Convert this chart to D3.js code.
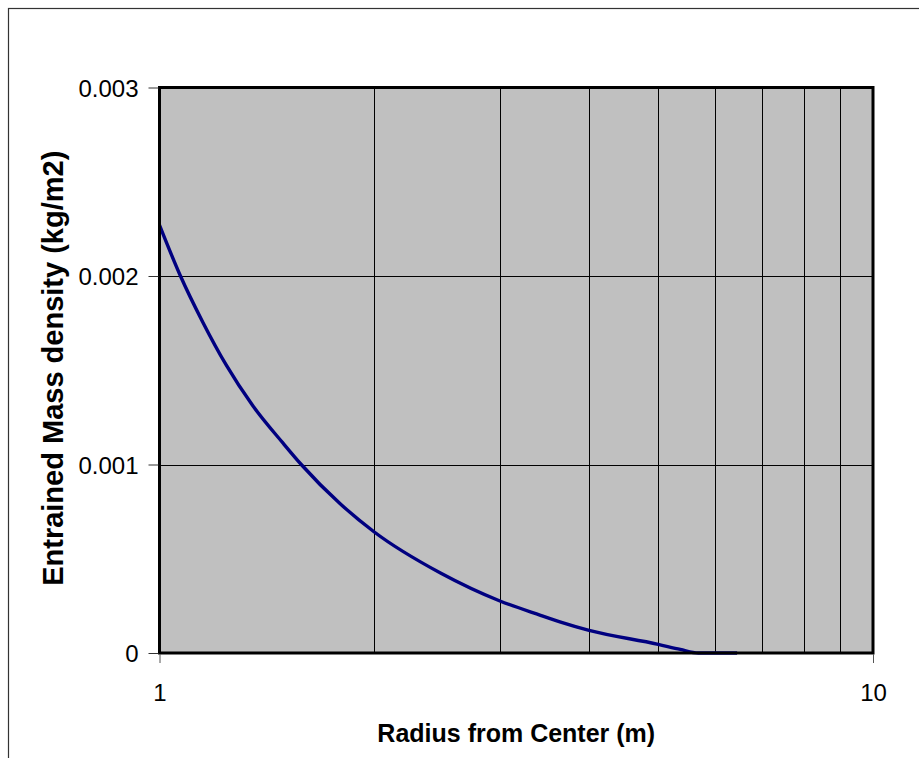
<!DOCTYPE html>
<html>
<head>
<meta charset="utf-8">
<script src="https://cdn.jsdelivr.net/npm/d3@7"></script>
<style>
  body { margin: 0; background: #fff; }
  svg { display: block; font-family: "Liberation Sans", Arial, sans-serif; }
</style>
</head>
<body>
<div id="chart"></div>
<script>
// data
var radius  = [1.00, 1.07, 1.15, 1.24, 1.35, 1.49, 1.58, 1.79, 2.00, 2.48, 3.00, 3.42, 3.65, 4.00, 5.00, 5.37, 5.69, 6.45];
var density = [0.00227, 0.00200, 0.001755, 0.001528, 0.001314, 0.001113, 0.00100, 0.000793, 0.000642, 0.000423, 0.000276, 0.000200, 0.000164, 0.000120, 0.000046, 0.000019, 0, 0];
var yTicks = [0, 0.001, 0.002, 0.003];
var yTickLabels = ["0", "0.001", "0.002", "0.003"];
var xTicks = [1, 10];
var xGrid = [2, 3, 4, 5, 6, 7, 8, 9];

var W = 919, H = 758;
// plot box (note: "top" is reserved on window, so use pl/pr/pt/pb)
var pl = 159.5, pr = 873, pt = 87.5, pb = 653;

var svg = d3.select("#chart").append("svg")
    .attr("width", W)
    .attr("height", H);

// outer chart border
svg.append("rect")
    .attr("x", 8.5).attr("y", 8.5)
    .attr("width", 1000).attr("height", 1000)
    .attr("fill", "none")
    .attr("stroke", "#333")
    .attr("stroke-width", 1.2);

var x = d3.scaleLog().domain([1, 10]).range([pl, pr]);
var y = d3.scaleLinear().domain([0, 0.003]).range([pb, pt]);

// plot background
svg.append("rect")
    .attr("x", pl).attr("y", pt)
    .attr("width", pr - pl).attr("height", pb - pt)
    .attr("fill", "#c0c0c0");

// grid lines
svg.append("g").selectAll("line")
    .data(xGrid)
    .enter().append("line")
    .attr("x1", function (d) { return Math.round(x(d)) + 0.5; })
    .attr("x2", function (d) { return Math.round(x(d)) + 0.5; })
    .attr("y1", pt).attr("y2", pb)
    .attr("stroke", "#000").attr("stroke-width", 1);

svg.append("g").selectAll("line")
    .data(yTicks.slice(1, 3))
    .enter().append("line")
    .attr("x1", pl).attr("x2", pr)
    .attr("y1", function (d) { return Math.round(y(d)) + 0.5; })
    .attr("y2", function (d) { return Math.round(y(d)) + 0.5; })
    .attr("stroke", "#000").attr("stroke-width", 1);

// the curve
var pts = radius.map(function (r, i) { return [r, density[i]]; });
var line = d3.line()
    .x(function (d) { return x(d[0]); })
    .y(function (d) { return y(d[1]); })
    .curve(d3.curveMonotoneX);

svg.append("path")
    .datum(pts)
    .attr("d", line)
    .attr("fill", "none")
    .attr("stroke", "#000080")
    .attr("stroke-width", 3.4)
    .attr("stroke-linejoin", "round");

// plot frame
svg.append("rect")
    .attr("x", pl).attr("y", pt)
    .attr("width", pr - pl).attr("height", pb - pt)
    .attr("fill", "none")
    .attr("stroke", "#000")
    .attr("stroke-width", 3);

// y axis
var yAxis = d3.axisLeft(y)
    .tickValues(yTicks)
    .tickFormat(function (d, i) { return yTickLabels[i]; })
    .tickSize(10)
    .tickPadding(10);

var gy = svg.append("g")
    .attr("transform", "translate(" + (pl - 1) + ",0)")
    .call(yAxis);
gy.select(".domain").remove();
gy.selectAll("line").attr("stroke", "#333");
gy.selectAll("text")
    .attr("font-size", 24)
    .attr("fill", "#000")
    .attr("font-family", "'Liberation Sans', Arial, sans-serif")
    .attr("dy", "0.36em");

// x axis
var xAxis = d3.axisBottom(x)
    .tickValues(xTicks)
    .tickFormat(d3.format("d"))
    .tickSize(9)
    .tickPadding(21);

var gx = svg.append("g")
    .attr("transform", "translate(0," + (pb + 1) + ")")
    .call(xAxis);
gx.select(".domain").remove();
gx.selectAll("line").attr("stroke", "#555");
gx.selectAll("text")
    .attr("font-size", 24)
    .attr("fill", "#000")
    .attr("font-family", "'Liberation Sans', Arial, sans-serif");

// axis titles
svg.append("text")
    .attr("x", (pl + pr) / 2)
    .attr("y", 741.5)
    .attr("text-anchor", "middle")
    .attr("font-size", 25)
    .attr("font-weight", "bold")
    .text("Radius from Center (m)");

svg.append("text")
    .attr("transform", "translate(63," + ((pt + pb) / 2 - 2) + ") rotate(-90)")
    .attr("text-anchor", "middle")
    .attr("font-size", 29)
    .attr("font-weight", "bold")
    .text("Entrained Mass density (kg/m2)");
</script>
</body>
</html>
